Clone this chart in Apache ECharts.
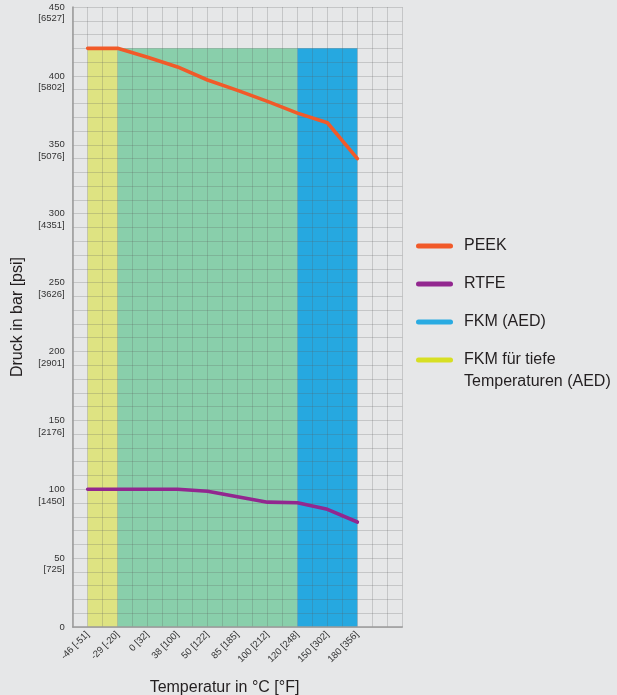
<!DOCTYPE html>
<html>
<head>
<meta charset="utf-8">
<script src="https://cdn.jsdelivr.net/npm/echarts@6/dist/echarts.min.js"></script>
<style>
html,body{margin:0;padding:0;background:#e6e7e8;}
#chart{width:617px;height:695px;}
</style>
</head>
<body>
<div id="chart"></div>
<script>
// Temperature tick labels (°C [°F])
const tempLabels = ['-46 [-51]', '-29 [-20]', '0 [32]', '38 [100]', '50 [122]', '85 [185]', '100 [212]', '120 [248]', '150 [302]', '180 [356]'];
// Pressure in bar at each temperature label
const peekValues = [420, 420, 413.5, 406.5, 397, 389.5, 381.5, 373, 366, 340];
const rtfeValues = [100, 100, 100, 100, 98.5, 94.6, 90.6, 90.2, 85.4, 76.2];
// Seal material areas: [fromLabelIndex, toLabelIndex], upper limit in bar
const bandTop = 420;
const lowTempBand = [0, 1];
const generalBand = [1, 7];
const fkmBand = [7, 9];
// Y tick labels
const yTicksBar = [0, 50, 100, 150, 200, 250, 300, 350, 400, 450];
const yTicksPsi = ['', '725', '1450', '2176', '2901', '3626', '4351', '5076', '5802', '6527'];
// Legend text of the low-temperature FKM series (two lines)
const lowNameLines = ['FKM für tiefe', 'Temperaturen (AED)'];

const FONT = '"Liberation Sans", Arial, Helvetica, sans-serif';
const pos = i => 1 + 2 * i;
const bandData = r => [[pos(r[0]), bandTop], [pos(r[1]), bandTop]];
const LOWNAME = lowNameLines.join(' ');

const chart = echarts.init(document.getElementById('chart'));
const capsule = 'path://M2.5,0 L34.5,0 A2.5,2.5 0 0 1 34.5,5 L2.5,5 A2.5,2.5 0 0 1 2.5,0 Z';

function bandSeries(name, range, lineColor, fill) {
  return {
    name: name, type: 'line', data: bandData(range), z: 1,
    symbol: 'none', silent: true,
    color: lineColor,
    itemStyle: { color: lineColor },
    lineStyle: { width: 0, color: fill },
    areaStyle: { color: fill, opacity: 1 }
  };
}

chart.setOption({
  backgroundColor: '#e6e7e8',
  animation: false,
  textStyle: { fontFamily: FONT },
  grid: { left: 72.7, right: 214.7, top: 7, bottom: 68, outerBoundsMode: 'none', containLabel: false },
  legend: [
    {
      orient: 'vertical', left: 416, top: 236, itemGap: 18, padding: 0,
      itemWidth: 37, itemHeight: 5, icon: capsule,
      data: ['PEEK', 'RTFE', 'FKM (AED)'],
      selectedMode: false,
      textStyle: { fontFamily: FONT, fontSize: 16, color: '#231f20', lineHeight: 20, padding: [0, 0, 0, 6] }
    },
    {
      orient: 'vertical', left: 416, top: 350, padding: 0,
      itemWidth: 37, itemHeight: 5, icon: capsule,
      data: [LOWNAME],
      selectedMode: false,
      formatter: () => lowNameLines[0],
      textStyle: { fontFamily: FONT, fontSize: 16, color: '#231f20', lineHeight: 20, padding: [0, 0, 0, 6] }
    }
  ],
  graphic: [
    {
      type: 'text', left: 464, top: 372, silent: true,
      style: { text: lowNameLines[1], font: '16px ' + FONT, fill: '#231f20', lineHeight: 20 }
    }
  ],
  xAxis: {
    type: 'value', min: 0, max: 22, interval: 1, z: 3,
    name: 'Temperatur in °C [°F]', nameLocation: 'middle', nameGap: 53,
    nameTextStyle: { fontFamily: FONT, fontSize: 16, color: '#231f20', padding: [0, 26, 0, 0] },
    axisLine: { show: true, onZero: false, lineStyle: { color: '#9a9a9a', width: 1.5 } },
    axisTick: { show: false },
    splitLine: { show: true, lineStyle: { color: 'rgba(90,90,90,0.23)', width: 1 } },
    axisLabel: {
      rotate: 45, fontSize: 9.5, color: '#333', margin: 6, fontFamily: FONT,
      formatter: v => {
        if (v % 2 === 1) { const i = (v - 1) / 2; return tempLabels[i] || ''; }
        return '';
      }
    }
  },
  yAxis: [
    {
      type: 'value', min: 0, max: 450, interval: 10, z: 3,
      name: 'Druck in bar [psi]', nameLocation: 'middle', nameGap: 47, nameRotate: 90,
      nameTextStyle: { fontFamily: FONT, fontSize: 16, color: '#231f20' },
      axisLine: { show: true, lineStyle: { color: '#9a9a9a', width: 1.5 } },
      axisTick: { show: false },
      splitLine: { show: true, lineStyle: { color: 'rgba(90,90,90,0.23)', width: 1 } },
      axisLabel: {
        fontSize: 9.5, color: '#333', margin: 8, align: 'right', fontFamily: FONT,
        formatter: v => yTicksBar.indexOf(v) >= 0 ? String(v) : ''
      }
    },
    {
      type: 'value', min: 0, max: 450, interval: 10, position: 'left', z: 3,
      axisLine: { show: false }, axisTick: { show: false }, splitLine: { show: false },
      axisLabel: {
        fontSize: 9.5, color: '#333', margin: 8, align: 'right', fontFamily: FONT,
        verticalAlign: 'top', lineHeight: 11.5, padding: [6, 0, 0, 0],
        formatter: v => {
          const i = yTicksBar.indexOf(v);
          return (i >= 0 && yTicksPsi[i]) ? '[' + yTicksPsi[i] + ']' : '';
        }
      }
    }
  ],
  series: [
    bandSeries(LOWNAME, lowTempBand, '#d7df23', '#dee382'),
    bandSeries('general', generalBand, '#89cfab', '#89cfab'),
    bandSeries('FKM (AED)', fkmBand, '#29abe2', '#26a8e0'),
    {
      name: 'PEEK', type: 'line', z: 5, symbol: 'none',
      data: peekValues.map((v, i) => [pos(i), v]),
      color: '#f15a29', itemStyle: { color: '#f15a29' },
      lineStyle: { color: '#f15a29', width: 3.6, cap: 'round', join: 'round' }
    },
    {
      name: 'RTFE', type: 'line', z: 5, symbol: 'none',
      data: rtfeValues.map((v, i) => [pos(i), v]),
      color: '#92278f', itemStyle: { color: '#92278f' },
      lineStyle: { color: '#92278f', width: 3.6, cap: 'round', join: 'round' }
    }
  ]
});
</script>
</body>
</html>
